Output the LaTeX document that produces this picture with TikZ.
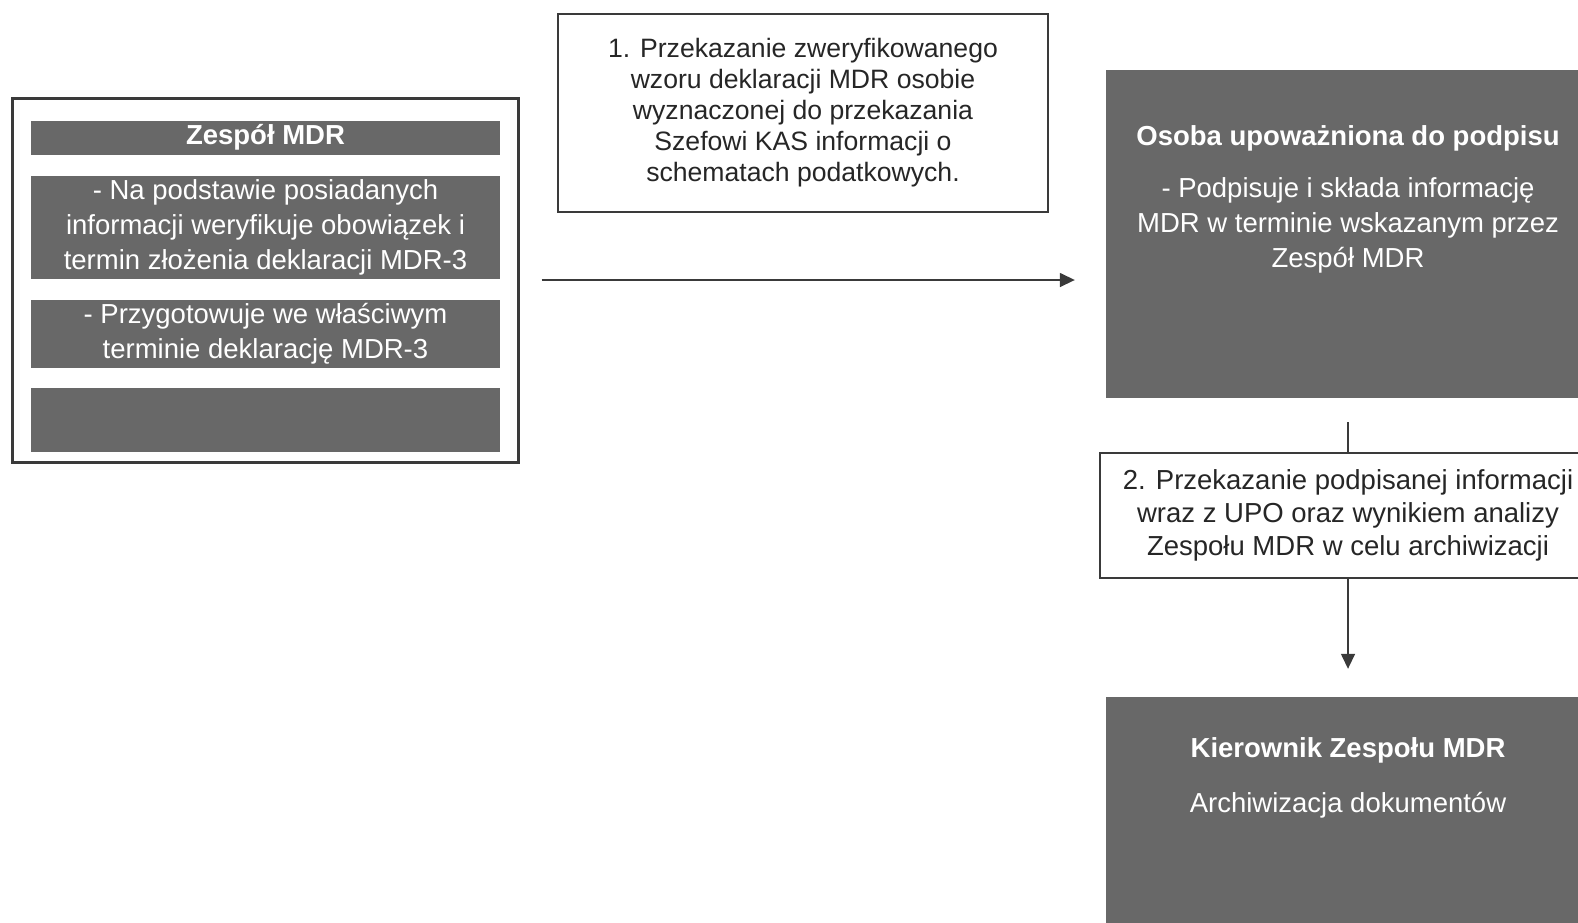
\documentclass[tikz,border=0pt]{standalone}
\usepackage{fontspec}
\setmainfont{Liberation Sans}
\usetikzlibrary{arrows.meta,positioning}
\definecolor{boxgray}{RGB}{104,104,104}
\definecolor{linegray}{RGB}{58,58,58}
\tikzset{every node/.style={inner sep=0pt, align=center, font=\fontsize{27.5}{35}\selectfont},
  bar/.style={fill=boxgray, text=white, minimum width=469pt},
  panel/.style={fill=boxgray, minimum width=484pt},
  head/.style={text=white, font=\bfseries\fontsize{27.5}{35}\selectfont},
  note/.style={draw=linegray, line width=1.5pt, fill=white, text=black!85},
  link/.style={linegray, line width=1.5pt},
  arr/.style={link, -{Triangle[length=15pt,width=14pt]}}}

\begin{document}
\begin{tikzpicture}[x=1pt,y=-1pt]
  \useasboundingbox (0,0) rectangle (1578,922);
  \clip (0,0) rectangle (1578,922);
  \node[draw=linegray, line width=3pt, minimum width=506pt, minimum height=364pt] (zesp) at (265,280) {};
  \node[bar, minimum height=34pt, font=\bfseries\fontsize{27.5}{35}\selectfont] (zespT) at (265.5,137.5) {Zespół MDR};
  \node[bar, minimum height=103pt] (zespA) at (265.5,227) {- Na podstawie posiadanych\\informacji weryfikuje obowiązek i\\termin złożenia deklaracji MDR-3};
  \node[bar, minimum height=68pt] (zespB) at (265.5,334) {- Przygotowuje we właściwym\\terminie deklarację MDR-3};
  \node[bar, minimum height=64pt] (zespC) at (265.5,420) {};

  \node[note, minimum width=490pt, minimum height=198pt, font=\fontsize{26.6}{31}\selectfont] (pass1) at (803,113)
    {1. Przekazanie zweryfikowanego\\wzoru deklaracji MDR osobie\\wyznaczonej do przekazania\\Szefowi KAS informacji o\\schematach podatkowych.};

  \node[panel, minimum height=328pt] (osoba) at (1348,234) {};
  \node[head] (osobaT) at (1348,138) {Osoba upoważniona do podpisu};
  \node[text=white] (osobaD) at (1348,225) {- Podpisuje i składa informację\\MDR w terminie wskazanym przez\\Zespół MDR};

  \node[note, minimum width=496pt, minimum height=125pt, font=\fontsize{27.5}{33}\selectfont] (pass2) at (1348,515.5)
    {2. Przekazanie podpisanej informacji\\wraz z UPO oraz wynikiem analizy\\Zespołu MDR w celu archiwizacji};

  \node[panel, minimum height=242pt] (kier) at (1348,818) {};
  \node[head] (kierT) at (1348,750) {Kierownik Zespołu MDR};
  \node[text=white] (kierD) at (1348,805) {Archiwizacja dokumentów};

  \draw[arr] ([xshift=22pt]zesp.east) -- ([xshift=-31pt]zesp.east -| osoba.west);
  \draw[link] ([yshift=-24pt]osoba.south) -- (pass2.north);
  \draw[arr] (pass2.south) -- ([yshift=28pt]kier.north);
\end{tikzpicture}
\end{document}
